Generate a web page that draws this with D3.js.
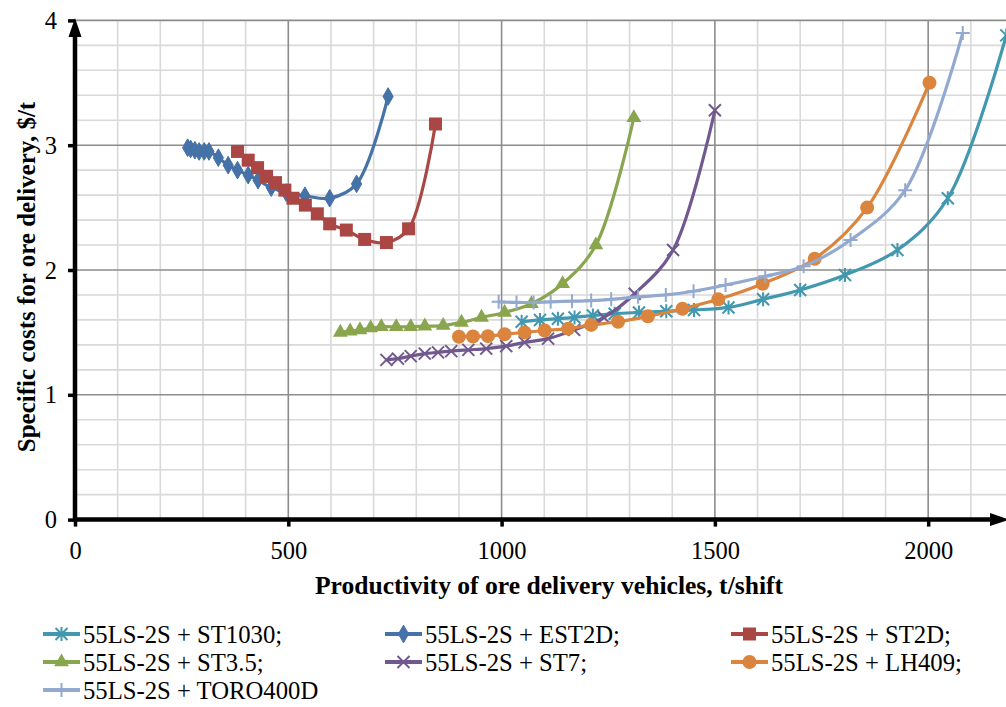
<!DOCTYPE html>
<html><head><meta charset="utf-8">
<script src="https://cdn.jsdelivr.net/npm/d3@7/dist/d3.min.js"></script>
<style>body{margin:0;background:#fff}svg{display:block}text{font-family:"Liberation Serif","Times New Roman",serif}</style>
</head><body>
<svg id="chart" width="1006" height="707"></svg>
<script>
const seriesNames = ["55LS-2S + ST1030;","55LS-2S + EST2D;","55LS-2S + ST2D;","55LS-2S + ST3.5;","55LS-2S + ST7;","55LS-2S + LH409;","55LS-2S + TORO400D"];
const st1030X = [1047,1090,1132,1171,1214,1265,1322,1386,1451,1532,1613,1700,1805,1928,2046,2183];
const st1030Y = [1.585,1.60,1.61,1.62,1.635,1.65,1.66,1.67,1.68,1.70,1.765,1.84,1.96,2.16,2.575,3.88];
const est2dX = [264,271,281,291,303,314,336,359,381,406,429,460,495,539,597,660,734];
const est2dY = [2.98,2.97,2.96,2.95,2.95,2.95,2.90,2.84,2.80,2.76,2.72,2.66,2.62,2.595,2.575,2.69,3.39];
const st2dX = [381,406,428,449,470,492,511,540,568,597,636,679,730,782,845];
const st2dY = [2.95,2.88,2.82,2.75,2.70,2.64,2.575,2.52,2.45,2.37,2.32,2.245,2.22,2.33,3.17];
const st35X = [622,645,668,693,718,753,787,820,863,906,953,1007,1070,1143,1221,1310];
const st35Y = [1.50,1.51,1.52,1.535,1.545,1.545,1.545,1.55,1.555,1.58,1.62,1.66,1.73,1.89,2.20,3.22];
const st7X = [730,757,787,820,851,882,922,964,1011,1054,1109,1170,1240,1312,1402,1500];
const st7Y = [1.28,1.29,1.31,1.33,1.34,1.35,1.36,1.37,1.39,1.42,1.45,1.52,1.62,1.81,2.16,3.28];
const lh409X = [900,933,968,1007,1054,1101,1156,1210,1273,1343,1424,1508,1612,1734,1857,2003];
const lh409Y = [1.465,1.467,1.47,1.485,1.50,1.515,1.53,1.56,1.585,1.63,1.69,1.765,1.89,2.09,2.50,3.50];
const toroX = [993,1035,1075,1115,1165,1210,1257,1320,1385,1450,1525,1618,1708,1818,1946,2081];
const toroY = [1.745,1.74,1.74,1.745,1.75,1.755,1.765,1.785,1.80,1.83,1.88,1.95,2.03,2.24,2.64,3.90];
const xTicks = [0,500,1000,1500,2000];
const yTicks = [0,1,2,3,4];
const xTitle = "Productivity of ore delivery vehicles, t/shift";
const yTitle = "Specific costs for ore delivery, $/t";

const colors = ["#4198AF","#4572A7","#AA4643","#89A54E","#71588F","#DB843D","#93A9CF"];
const markers = ["star","diamond","square","triangle","x","circle","plus"];
const xs = [st1030X,est2dX,st2dX,st35X,st7X,lh409X,toroX];
const ys = [st1030Y,est2dY,st2dY,st35Y,st7Y,lh409Y,toroY];

const svg = d3.select("#chart");
const x = d3.scaleLinear().domain([0,2200]).range([75,1013.5]);
const y = d3.scaleLinear().domain([0,4]).range([519.6,20.4]);

// grid
const g = svg.append("g");
const minorX = d3.range(100,2201,100).filter(v=>v%500!==0);
const minorY = d3.range(0.2,4.01,0.2).map(v=>+v.toFixed(1)).filter(v=>Math.abs(v-Math.round(v))>1e-6);
g.selectAll(".vx").data(minorX).join("line").attr("x1",d=>x(d)).attr("x2",d=>x(d)).attr("y1",y(4)).attr("y2",y(0)).attr("stroke","#d9d9d9").attr("stroke-width",1.6);
g.selectAll(".hy").data(minorY).join("line").attr("x1",x(0)).attr("x2",1006).attr("y1",d=>y(d)).attr("y2",d=>y(d)).attr("stroke","#d9d9d9").attr("stroke-width",1.6);
g.selectAll(".VX").data([500,1000,1500,2000]).join("line").attr("x1",d=>x(d)).attr("x2",d=>x(d)).attr("y1",y(4)).attr("y2",y(0)).attr("stroke","#8c8c8c").attr("stroke-width",1.6);
g.selectAll(".HY").data([1,2,3,4]).join("line").attr("x1",x(0)).attr("x2",1006).attr("y1",d=>y(d)).attr("y2",d=>y(d)).attr("stroke","#8c8c8c").attr("stroke-width",1.6);

// axes
const xAxis = d3.axisBottom(x).tickValues(xTicks).tickSize(7).tickFormat(d3.format("d"));
const yAxis = d3.axisLeft(y).tickValues(yTicks).tickSize(7).tickFormat(d3.format("d"));
const gx = svg.append("g").attr("transform",`translate(0,${y(0)})`).call(xAxis);
const gy = svg.append("g").attr("transform",`translate(${x(0)},0)`).call(yAxis);
[gx,gy].forEach(a=>{
  a.select(".domain").remove();
  a.selectAll(".tick line").attr("stroke","#000").attr("stroke-width",3.5);
  a.selectAll(".tick text").attr("font-size",24.5).attr("fill","#000").style("font-family",'"Liberation Serif",serif');
});
gx.selectAll(".tick text").attr("dy",0).attr("y",39);
gy.selectAll(".tick text").attr("x",-18).attr("dy","0.33em");

svg.append("line").attr("x1",x(0)).attr("x2",995).attr("y1",y(0)).attr("y2",y(0)).attr("stroke","#000").attr("stroke-width",4.5);
svg.append("line").attr("x1",x(0)).attr("x2",x(0)).attr("y1",y(0)+2).attr("y2",32).attr("stroke","#000").attr("stroke-width",4.5);
svg.append("path").attr("d",`M${x(0)},18 L${x(0)-6.5},37 L${x(0)+6.5},37 Z`).attr("fill","#000");
svg.append("path").attr("d",`M1009,${y(0)} L990,${y(0)-6.5} L990,${y(0)+6.5} Z`).attr("fill","#000");

// titles
svg.append("text").attr("x",549).attr("y",594).attr("text-anchor","middle").attr("font-size",25.6).attr("font-weight","bold").text(xTitle);
svg.append("text").attr("transform","translate(35,277) rotate(-90)").attr("text-anchor","middle").attr("font-size",25).attr("font-weight","bold").text(yTitle);

// markers
function drawMarker(sel, type, color){
  const s = 6;
  if(type==="diamond") sel.append("path").attr("d",d3.symbol(d3.symbolDiamond,90)()).attr("fill",color).attr("stroke",color).attr("stroke-width",1);
  else if(type==="square") sel.append("rect").attr("x",-6.5).attr("y",-6.5).attr("width",13).attr("height",13).attr("fill",color);
  else if(type==="triangle") sel.append("path").attr("d",d3.symbol(d3.symbolTriangle,95)()).attr("fill",color);
  else if(type==="circle") sel.append("circle").attr("r",7).attr("fill",color);
  else if(type==="x") sel.append("path").attr("d",`M${-s},${-s}L${s},${s}M${-s},${s}L${s},${-s}`).attr("stroke",color).attr("stroke-width",2).attr("fill","none");
  else if(type==="star") sel.append("path").attr("d",`M${-s},${-s}L${s},${s}M${-s},${s}L${s},${-s}M0,${-s-1}L0,${s+1}`).attr("stroke",color).attr("stroke-width",2).attr("fill","none");
  else if(type==="plus") sel.append("path").attr("d",`M${-s-1},0L${s+1},0M0,${-s-1}L0,${s+1}`).attr("stroke",color).attr("stroke-width",2).attr("fill","none");
}

const line = d3.line().x(d=>x(d[0])).y(d=>y(d[1])).curve(d3.curveCatmullRom.alpha(0.5));
const plot = svg.append("g");
seriesNames.forEach((name,i)=>{
  const pts = xs[i].map((v,j)=>[v,ys[i][j]]);
  const sg = plot.append("g");
  sg.append("path").datum(pts).attr("d",line).attr("fill","none").attr("stroke",colors[i]).attr("stroke-width",3.2);
  sg.selectAll("g.m").data(pts).join("g").attr("class","m").attr("transform",d=>`translate(${x(d[0])},${y(d[1])})`).each(function(){drawMarker(d3.select(this),markers[i],colors[i]);});
});

// legend
const colX = [43,385,731];
const rowY = [634,662,690];
seriesNames.forEach((name,i)=>{
  const lx = colX[i%3], ly = rowY[Math.floor(i/3)];
  const lg = svg.append("g").attr("transform",`translate(${lx},${ly})`);
  lg.append("line").attr("x1",0).attr("x2",37).attr("y1",0).attr("y2",0).attr("stroke",colors[i]).attr("stroke-width",4);
  drawMarker(lg.append("g").attr("transform","translate(18.5,0)"),markers[i],colors[i]);
  lg.append("text").attr("x",40).attr("y",8.5).attr("font-size",24.7).attr("fill","#000").text(name);
});
</script>
</body></html>
